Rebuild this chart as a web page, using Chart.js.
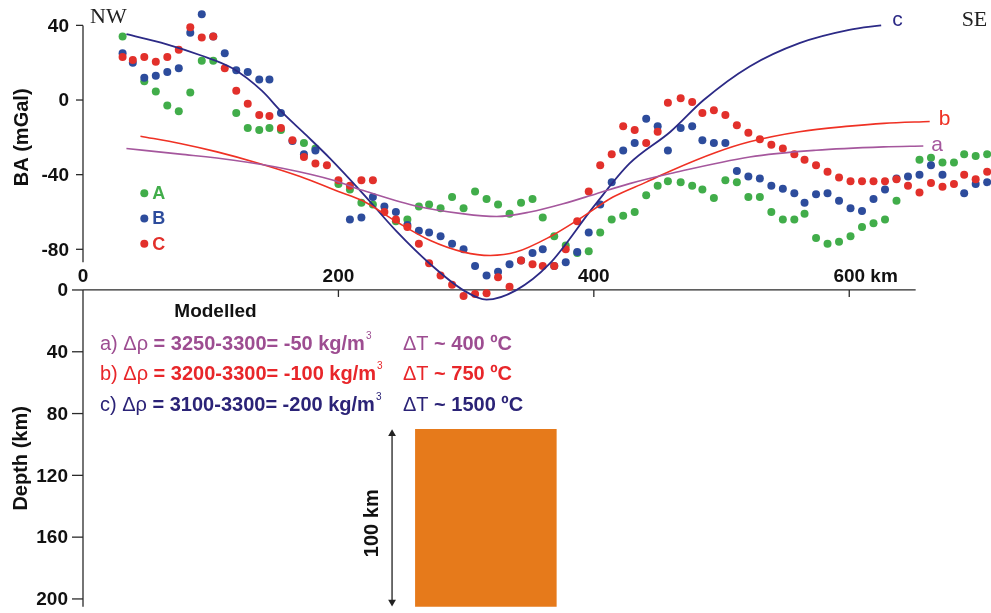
<!DOCTYPE html>
<html lang="en">
<head>
<meta charset="UTF-8">
<title>BA profile NW-SE with modelled body</title>
<script src="https://cdn.jsdelivr.net/npm/chart.js"></script>
<style>
  html, body { margin: 0; padding: 0; background: #fff; }
  #wrap { width: 991px; height: 613px; position: relative; }
</style>
</head>
<body>
<div id="wrap"><canvas id="chart"></canvas></div>
<script>
// distance along profile (km) of the observed stations
const dist = [
  31, 39, 48, 57, 66, 75, 84, 93, 102, 111,
  120, 129, 138, 146, 155, 164, 173, 182, 191, 200,
  209, 218, 227, 236, 245, 254, 263, 271, 280, 289,
  298, 307, 316, 325, 334, 343, 352, 360, 369, 378,
  387, 396, 405, 414, 423, 432, 441, 450, 458, 468,
  477, 485, 494, 503, 512, 521, 530, 539, 548, 557,
  565, 574, 583, 592, 601, 610, 619, 628, 637, 646,
  655, 664, 673, 682, 690, 699, 708
];
// observed Bouguer anomaly (mGal), profiles A, B, C
const obsA = [
  34, null, 10, 4.5, -3, -6, 4, 21, 21, null,
  -7, -15, -16, -15, -16, null, -23, -26, null, -45,
  -48, -55, -56, null, -65, -64, -57, -56, -58, -52,
  -58, -49, -53, -56, -61, -55, -53, -63, -73, -78,
  -82, -81, -71, -64, -62, -60, -51, -46, -43.5, -44,
  -46, -48, -52.5, -43, -44, -52, -52, -60, -64, -64,
  -61, -74, -77, -76, -73, -68, -66, -64, -54, null,
  -32, -31, -33.5, -33.5, -29, -30, -29
];
const obsB = [
  25, 20, 12, 13, 15, 17, 36, 46, 34, 25,
  16, 15, 11, 11, -7, -22, -29, -27, null, null,
  -64, -63, -52, -57, -60, -67, -70, -71, -73, -77,
  -80, -89, -94, -92, -88, -86, -82, -80, -89, -87,
  -81.5, -71, -56, -44, -27, -23, -10, -14, -27, -15,
  -14, -21.5, -23, -23, -38, -41, -42, -46, -47.5, -50,
  -55, -50.5, -50, -54, -58, -59.5, -53, -48, -42, -41,
  -40, -35, -40, null, -50, -45, -44
];
const obsC = [
  23, 21.5, 23, 20.5, 23, 27, 39, 33.5, 34, 17,
  5, -2, -8, -8.5, -15, -21.5, -30.5, -34, -35, -43,
  -46, -43, -43, -60, -64, -68, -77, -87.5, -94, -99,
  -105, -104, -103.5, -95, -100, -86, -88, -89, -89, -80,
  -65, -49, -35, -29, -14, -16, -23, -17, -1.5, 1,
  -1, -7, -5.5, -8, -13.5, -17.5, -21, -24, -26, -29,
  -32, -35, -38.5, -41.5, -43.5, -43.5, -43.5, -43.5, -42.5, -46,
  -49.5, -44.5, -46.5, -45, -40, -42.5, -38.5
];

// modelled curves a, b, c (km, mGal)
const modelKmA = [34, 76, 118, 157, 196, 219, 259, 298, 324, 350, 376, 402, 428, 460, 522, 574, 627, 658];
const modelA = [-26, -29, -32.3, -36.7, -43, -48.4, -56.5, -61, -62.4, -60, -55.6, -50.2, -44.8, -39.4, -30.5, -26.9, -25.1, -24.6];
const modelKmB = [45, 76, 105, 138, 170, 200, 219, 245, 272, 298, 319, 339, 365, 389, 415, 441, 460, 496, 522, 561, 600, 627, 663];
const modelB = [-19.4, -23.3, -27.8, -34, -41, -49, -54, -65, -75.3, -81.5, -83.3, -81.5, -73.5, -63.6, -52, -44, -38, -28, -22.4, -17, -14, -12.5, -11.5];
const modelKmC = [34, 65, 92, 117, 140, 155, 175, 193, 219, 245, 272, 298, 316, 339, 365, 400, 428, 460, 486, 522, 561, 600, 625];
const modelC = [35.3, 30, 24, 17, 5, -6, -19, -31, -50, -70, -88, -102, -107, -102, -88, -57, -34, -17, 0, 18, 30.5, 37.6, 40];

// low density body (km along profile, depth km) and its thickness arrow
const bodyKm = [260, 371];
const bodyTop = 90;
const bodyBottom = 205;
const arrowKm = 242;
const arrowDepth = [93, 202];

const baTicks = [40, 0, -40, -80];
const depthTicks = [0, 40, 80, 120, 160, 200];
const distTicks = [0, 200, 400, 600];

const modelRows = [
  { tag: 'a) ', dr: '3250-3300= -50 kg/m', dt: '400 ºC', color: '#9d4d91' },
  { tag: 'b) ', dr: '3200-3300= -100 kg/m', dt: '750 ºC', color: '#e8262a' },
  { tag: 'c) ', dr: '3100-3300= -200 kg/m', dt: '1500 ºC', color: '#2b2377' }
];

const GREEN = '#41ad4a', BLUE = '#2d4c9c', RED = '#e2302b';
const LINE_A = '#a5579d', LINE_B = '#ef3124', LINE_C = '#2c2a86';
const SANS = '"Liberation Sans", Arial, sans-serif';

const pts = (xs, ys) => xs.map((x, i) => ({ x: x, y: ys[i] })).filter(p => p.y !== null);

function dotSet(label, ys, color, order) {
  return {
    label: label, data: pts(dist, ys), yAxisID: 'yBA', order: order,
    showLine: false, pointRadius: 4, pointHoverRadius: 4,
    pointBackgroundColor: color, pointBorderWidth: 0, borderColor: color
  };
}
function curveSet(label, xs, ys, color, width) {
  return {
    label: label, data: pts(xs, ys), yAxisID: 'yBA', order: 0,
    showLine: true, borderColor: color, borderWidth: width, pointRadius: 0,
    cubicInterpolationMode: 'monotone', fill: false
  };
}

// axes, ticks and annotations drawn from the scales
const frame = {
  id: 'frame',
  beforeDatasetsDraw(chart) {
    const { ctx, scales } = chart;
    const x = scales.x, yBA = scales.yBA, yDep = scales.yDep;
    const x0 = x.getPixelForValue(0);
    const d0 = yDep.getPixelForValue(0);
    const seg = (a, b, c, d) => { ctx.beginPath(); ctx.moveTo(a, b); ctx.lineTo(c, d); ctx.stroke(); };
    ctx.save();
    ctx.strokeStyle = '#2a2a2a';
    ctx.lineWidth = 1.3;
    // upper panel axis
    seg(x0, yBA.getPixelForValue(40), x0, yBA.getPixelForValue(-87));
    baTicks.forEach(v => { const p = yBA.getPixelForValue(v); seg(x0 - 7, p, x0, p); });
    // lower panel axes
    seg(x0, d0, x0, yDep.getPixelForValue(205));
    seg(x0, d0, x.getPixelForValue(652), d0);
    depthTicks.forEach(v => { const p = yDep.getPixelForValue(v); seg(x0 - 11, p, x0, p); });
    distTicks.slice(1).forEach(v => { const p = x.getPixelForValue(v); seg(p, d0, p, d0 + 7); });

    ctx.fillStyle = '#111';
    ctx.font = 'bold 19px ' + SANS;
    ctx.textBaseline = 'middle';
    ctx.textAlign = 'right';
    baTicks.forEach(v => ctx.fillText(String(v), x0 - 14, yBA.getPixelForValue(v) + 1));
    depthTicks.forEach(v => ctx.fillText(String(v), x0 - 15, yDep.getPixelForValue(v) + 1));
    ctx.textAlign = 'center';
    distTicks.forEach(v => {
      const p = x.getPixelForValue(v);
      if (v === 600) {
        const w = ctx.measureText('600').width;
        ctx.textAlign = 'left';
        ctx.fillText('600 km', p - w / 2, d0 - 13);
        ctx.textAlign = 'center';
      } else {
        ctx.fillText(String(v), p, d0 - 13);
      }
    });

    // axis titles
    const vtext = (t, cx, cy) => {
      ctx.save(); ctx.translate(cx, cy); ctx.rotate(-Math.PI / 2);
      ctx.textAlign = 'center'; ctx.textBaseline = 'middle'; ctx.fillText(t, 0, 0); ctx.restore();
    };
    ctx.font = 'bold 20px ' + SANS;
    vtext('BA (mGal)', 22, yBA.getPixelForValue(-20));
    vtext('Depth (km)', 21, yDep.getPixelForValue(109));
    ctx.restore();
  },
  afterDraw(chart) {
    const { ctx, scales } = chart;
    const x = scales.x, yBA = scales.yBA, yDep = scales.yDep;
    ctx.save();
    ctx.textBaseline = 'middle';
    ctx.textAlign = 'left';

    // NW / SE
    ctx.fillStyle = '#222';
    ctx.font = '22px "Liberation Serif", "Times New Roman", serif';
    ctx.fillText('NW', x.getPixelForValue(5.5), yBA.getPixelForValue(44.4));
    ctx.fillText('SE', x.getPixelForValue(688), yBA.getPixelForValue(42.8));

    // observed legend
    [['A', GREEN, -50], ['B', BLUE, -63.5], ['C', RED, -77]].forEach(([t, c, v]) => {
      const px = x.getPixelForValue(48), py = yBA.getPixelForValue(v);
      ctx.fillStyle = c;
      ctx.beginPath(); ctx.arc(px, py, 4, 0, Math.PI * 2); ctx.fill();
      ctx.font = 'bold 18px ' + SANS;
      ctx.fillText(t, px + 8, py + 1);
    });

    // curve labels
    ctx.font = '21px ' + SANS;
    [['c', modelKmC, modelC, LINE_C, 11, -5], ['b', modelKmB, modelB, LINE_B, 9, -2], ['a', modelKmA, modelA, LINE_A, 8, -1]]
      .forEach(([t, xs, ys, c, dx, dy]) => {
        const n = xs.length - 1;
        ctx.fillStyle = c;
        ctx.fillText(t, x.getPixelForValue(xs[n]) + dx, yBA.getPixelForValue(ys[n]) + dy);
      });

    // model legend
    ctx.fillStyle = '#111';
    ctx.font = 'bold 19px ' + SANS;
    ctx.fillText('Modelled', x.getPixelForValue(71.5), yDep.getPixelForValue(14));
    const rowDepth = [35.5, 55, 75];
    modelRows.forEach((r, i) => {
      const py = yDep.getPixelForValue(rowDepth[i]);
      let px = x.getPixelForValue(13.3);
      ctx.fillStyle = r.color;
      const put = (t, f) => { ctx.font = f; ctx.fillText(t, px, py); px += ctx.measureText(t).width; };
      put(r.tag, '20px ' + SANS);
      put('Δρ', '20px ' + SANS);
      put(' = ' + r.dr, 'bold 20px ' + SANS);
      ctx.font = '10px ' + SANS;
      ctx.fillText('3', px + 1, py - 9);
      px = x.getPixelForValue(250.5);
      put('ΔT', '20px ' + SANS);
      put(' ~ ' + r.dt, 'bold 20px ' + SANS);
    });

    // thickness label
    ctx.fillStyle = '#111';
    ctx.font = 'bold 20px ' + SANS;
    ctx.save();
    ctx.translate(x.getPixelForValue(227), yDep.getPixelForValue(151));
    ctx.rotate(-Math.PI / 2);
    ctx.textAlign = 'center';
    ctx.fillText('100 km', 0, 0);
    ctx.restore();
    ctx.restore();
  }
};

new Chart(document.getElementById('chart'), {
  type: 'scatter',
  data: {
    datasets: [
      curveSet('a', modelKmA, modelA, LINE_A, 1.6),
      curveSet('b', modelKmB, modelB, LINE_B, 1.6),
      curveSet('c', modelKmC, modelC, LINE_C, 1.8),
      dotSet('C', obsC, RED, 1),
      dotSet('B', obsB, BLUE, 2),
      dotSet('A', obsA, GREEN, 3),
      {
        label: 'body top', yAxisID: 'yDep', order: 10, showLine: true,
        data: bodyKm.map(k => ({ x: k, y: bodyTop })),
        borderWidth: 0, pointRadius: 0, fill: '+1', backgroundColor: '#e67a1b'
      },
      {
        label: 'body base', yAxisID: 'yDep', order: 11, showLine: true,
        data: bodyKm.map(k => ({ x: k, y: bodyBottom })),
        borderWidth: 0, pointRadius: 0, fill: false
      },
      {
        label: 'thickness', yAxisID: 'yDep', order: 9, showLine: true,
        data: arrowDepth.map(d => ({ x: arrowKm, y: d })),
        borderColor: '#222', borderWidth: 1.3,
        pointStyle: 'triangle', pointRadius: 4.5, pointRotation: [0, 180],
        pointBackgroundColor: '#222', pointBorderWidth: 0
      }
    ]
  },
  options: {
    responsive: true,
    maintainAspectRatio: false,
    animation: false,
    layout: { autoPadding: false, padding: { left: 83, right: 0, top: 0, bottom: 0 } },
    scales: {
      x: { type: 'linear', min: 0, max: 711, display: false },
      yBA: { type: 'linear', min: -274.9, max: 53.6, display: false },
      yDep: { type: 'linear', min: -187.7, max: 209.1, reverse: true, display: false }
    },
    plugins: {
      legend: { display: false },
      tooltip: { enabled: false }
    }
  },
  plugins: [frame]
});
</script>
</body>
</html>
